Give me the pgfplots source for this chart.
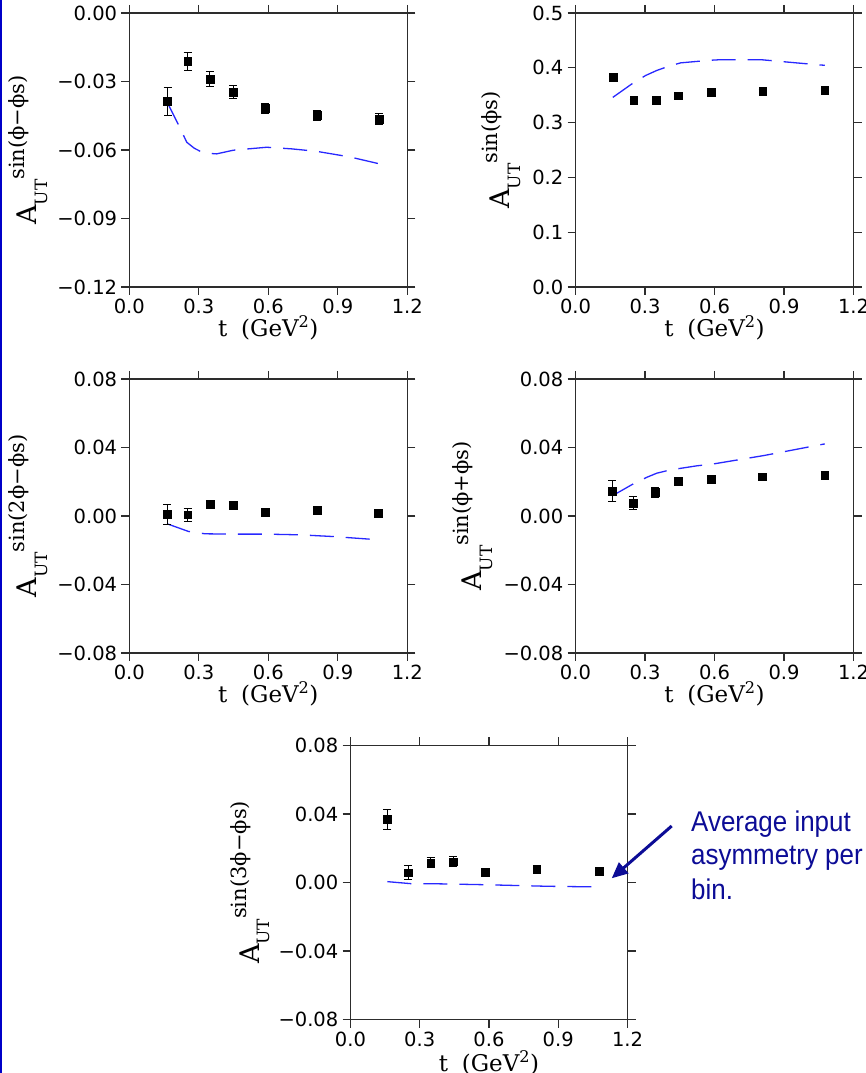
\documentclass[border=0pt]{standalone}
\usepackage{pgfplots}
\pgfplotsset{compat=1.18}
\usepackage{fontspec}
\setmainfont{DejaVu Sans}
\newfontfamily\labelfont{DejaVu Serif}
\newfontfamily\notefont[FakeStretch=0.91]{Liberation Sans}
\usetikzlibrary{arrows.meta}
\definecolor{navy}{RGB}{12,12,150}
\definecolor{curveblue}{RGB}{40,40,255}
\definecolor{framegray}{RGB}{45,45,45}
\definecolor{borderblue}{RGB}{0,0,200}

\newcommand{\aut}[1]{\labelfont A\raisebox{-0.4em}{\fontsize{17}{17}\selectfont UT}\raisebox{0.47em}{\fontsize{21}{21}\selectfont #1}}

\pgfplotsset{
  panel/.style={
    scale only axis, width=278pt, height=274pt,
    xmin=0, xmax=1.2,
    xtick={0,0.3,0.6,0.9,1.2},
    xticklabels={0.0,0.3,0.6,0.9,1.2},
    scaled y ticks=false, scaled x ticks=false,
    tick align=outside,
    major tick length=8pt,
    minor tick num=0,
    axis line style={line width=1.2pt, framegray},
    tick style={line width=1.2pt, framegray},
    tick label style={font=\fontsize{19.5}{19.5}\selectfont, text=black},
    xticklabel style={inner sep=0pt, yshift=-4pt},
    yticklabel style={inner sep=0pt, xshift=-4pt},
    xlabel={\labelfont t\hspace{0.6em}(GeV\textsuperscript{2})},
    xlabel style={at={(axis description cs:0.5,0)}, anchor=base, yshift=-50pt, font=\fontsize{23}{23}\selectfont, inner sep=0pt},
    ylabel style={anchor=base, font=\fontsize{27}{27}\selectfont, inner sep=0pt},
    clip=false,
  },
  pts/.style={only marks, mark=square*, mark size=3.9pt, black,
    error bars/.cd, y dir=both, y explicit,
    error bar style={line width=0.9pt, black},
    error mark options={rotate=90, mark size=4pt, line width=0.9pt, black}},
  crv/.style={curveblue, line width=1.3pt, dash pattern=on 24pt off 12pt, mark=none},
}

\begin{document}
\begin{tikzpicture}
\useasboundingbox (0,0) rectangle (865pt,1073pt);
\fill[borderblue] (0,0) rectangle (1.8pt,1073pt);

% Panel 1
\begin{axis}[panel, at={(129.3pt,786pt)}, anchor=south west,
  ymin=-0.12, ymax=0,
  ytick={-0.12,-0.09,-0.06,-0.03,0},
  yticklabels={−0.12,−0.09,−0.06,−0.03,0.00},
  ylabel={\aut{sin(ϕ−ϕs)}},
  ylabel style={at={(axis description cs:-0.333,0.5)}}]
\addplot[crv] coordinates {(0.165,-0.0394) (0.212,-0.0489) (0.248,-0.0566) (0.280,-0.0592) (0.320,-0.0613) (0.377,-0.0617) (0.449,-0.0601) (0.593,-0.0588) (0.700,-0.0595) (0.809,-0.0606) (0.950,-0.0630) (1.077,-0.0660)};
\addplot[pts] table[x=t, y=a, y error=e] {
t a e
0.165 -0.0387 0.0060
0.252 -0.0212 0.0040
0.348 -0.0289 0.0033
0.448 -0.0346 0.0028
0.587 -0.0418 0.0022
0.810 -0.0448 0.0022
1.077 -0.0464 0.0022
};
\end{axis}

% Panel 2
\begin{axis}[panel, at={(575.5pt,786pt)}, anchor=south west,
  ymin=0, ymax=0.5,
  ytick={0,0.1,0.2,0.3,0.4,0.5},
  yticklabels={0.0,0.1,0.2,0.3,0.4,0.5},
  ylabel={\aut{sin(ϕs)}},
  ylabel style={at={(axis description cs:-0.236,0.5)}}]
\addplot[crv] coordinates {(0.161,0.346) (0.248,0.372) (0.303,0.386) (0.350,0.395) (0.403,0.403) (0.454,0.409) (0.576,0.4136) (0.627,0.4148) (0.742,0.4148) (0.800,0.4148) (0.900,0.411) (0.958,0.4088) (1.076,0.4045)};
\addplot[pts] table[x=t, y=a, y error=e] {
t a e
0.161 0.3826 0.002
0.251 0.341 0.002
0.347 0.341 0.002
0.445 0.349 0.002
0.586 0.355 0.002
0.808 0.358 0.002
1.076 0.3595 0.002
};
\end{axis}

% Panel 3
\begin{axis}[panel, at={(129.3pt,420pt)}, anchor=south west,
  ymin=-0.08, ymax=0.08,
  ytick={-0.08,-0.04,0,0.04,0.08},
  yticklabels={−0.08,−0.04,0.00,0.04,0.08},
  ylabel={\aut{sin(2ϕ−ϕs)}},
  ylabel style={at={(axis description cs:-0.333,0.5)}}]
\addplot[crv] coordinates {(0.164,-0.0046) (0.255,-0.0090) (0.327,-0.0104) (0.449,-0.0106) (0.593,-0.0106) (0.737,-0.0110) (0.880,-0.0120) (1.076,-0.0139)};
\addplot[pts] table[x=t, y=a, y error=e] {
t a e
0.164 0.0011 0.0059
0.252 0.0007 0.0039
0.348 0.0067 0.0025
0.447 0.0061 0.0022
0.587 0.0024 0.0018
0.810 0.0032 0.0018
1.076 0.0018 0.0018
};
\end{axis}

% Panel 4
\begin{axis}[panel, at={(575.5pt,420pt)}, anchor=south west,
  ymin=-0.08, ymax=0.08,
  ytick={-0.08,-0.04,0,0.04,0.08},
  yticklabels={−0.08,−0.04,0.00,0.04,0.08},
  ylabel={\aut{sin(ϕ+ϕs)}},
  ylabel style={at={(axis description cs:-0.338,0.5)}}]
\addplot[crv] coordinates {(0.159,0.0118) (0.250,0.0188) (0.308,0.0226) (0.351,0.0250) (0.409,0.0269) (0.524,0.0293) (0.596,0.0304) (0.813,0.0353) (1.076,0.0421)};
\addplot[pts] table[x=t, y=a, y error=e] {
t a e
0.159 0.0147 0.0060
0.248 0.0075 0.0039
0.345 0.0139 0.0030
0.443 0.0201 0.0025
0.584 0.0213 0.0020
0.807 0.0230 0.0020
1.076 0.0238 0.0020
};
\end{axis}

% Panel 5
\begin{axis}[panel, at={(350.5pt,53.5pt)}, anchor=south west, width=277pt,
  ymin=-0.08, ymax=0.08,
  ytick={-0.08,-0.04,0,0.04,0.08},
  yticklabels={−0.08,−0.04,0.00,0.04,0.08},
  ylabel={\aut{sin(3ϕ−ϕs)}},
  ylabel style={at={(axis description cs:-0.33,0.5)}},
  xlabel style={yshift=-2pt}]
\addplot[crv] coordinates {(0.160,0.0005) (0.263,-0.0007) (0.352,-0.0007) (0.583,-0.0013) (0.850,-0.0022) (1.077,-0.0026)};
\addplot[pts] table[x=t, y=a, y error=e] {
t a e
0.160 0.0368 0.0061
0.249 0.0057 0.0040
0.347 0.0116 0.0030
0.446 0.0122 0.0028
0.585 0.0061 0.0022
0.807 0.0077 0.0020
1.077 0.0067 0.0020
};
\end{axis}

\draw[navy, line width=3pt, -{Triangle[length=16pt,width=14pt]}] (671.7pt,247pt) -- (611.7pt,194.7pt);
\node[anchor=base west, inner sep=0pt, text=navy, font=\notefont\fontsize{28.5}{28.5}\selectfont] at (691pt,241.3pt) {Average input};
\node[anchor=base west, inner sep=0pt, text=navy, font=\notefont\fontsize{28.5}{28.5}\selectfont] at (691pt,208pt) {asymmetry per};
\node[anchor=base west, inner sep=0pt, text=navy, font=\notefont\fontsize{28.5}{28.5}\selectfont] at (691pt,173pt) {bin.};
\end{tikzpicture}
\end{document}
